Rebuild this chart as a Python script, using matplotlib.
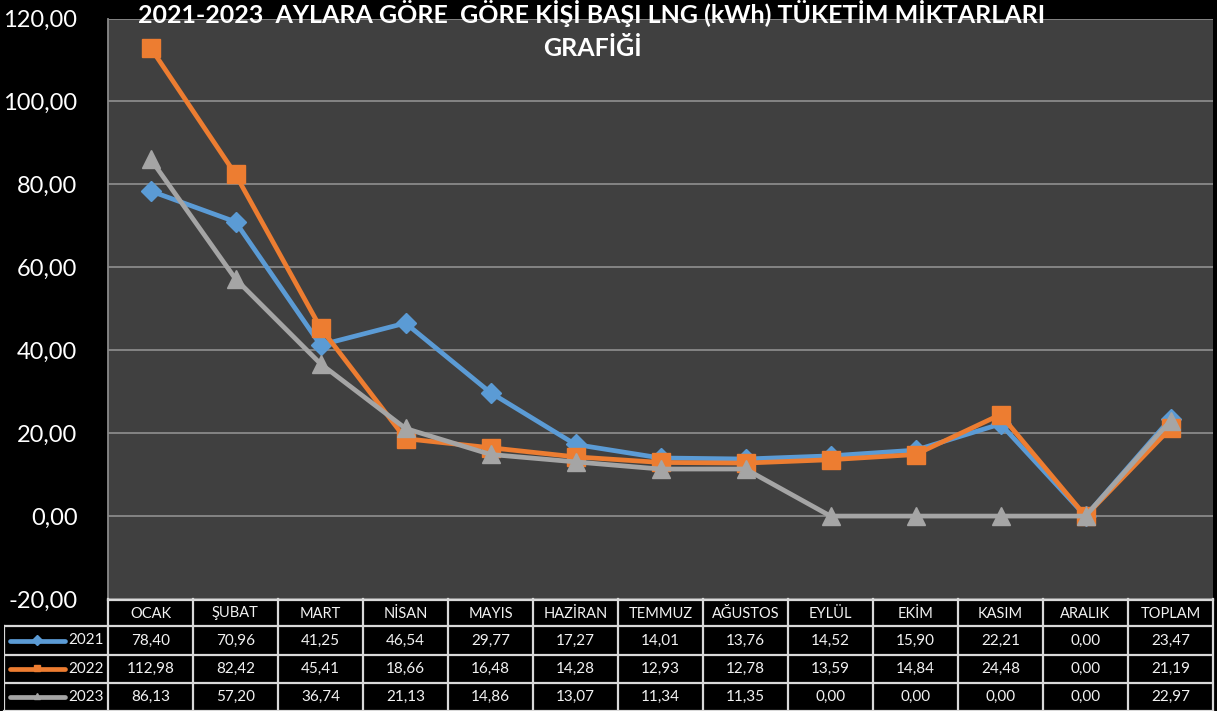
import matplotlib
matplotlib.use('Agg')
import matplotlib.pyplot as plt

plt.rcParams['font.family'] = ['Lato', 'DejaVu Sans']

months = ['OCAK', 'ŞUBAT', 'MART', 'NİSAN', 'MAYIS', 'HAZİRAN', 'TEMMUZ',
          'AĞUSTOS', 'EYLÜL', 'EKİM', 'KASIM', 'ARALIK', 'TOPLAM']
years = ['2021', '2022', '2023']
v2021 = [78.40, 70.96, 41.25, 46.54, 29.77, 17.27, 14.01, 13.76, 14.52,
         15.90, 22.21, 0.00, 23.47]
v2022 = [112.98, 82.42, 45.41, 18.66, 16.48, 14.28, 12.93, 12.78, 13.59,
         14.84, 24.48, 0.00, 21.19]
v2023 = [86.13, 57.20, 36.74, 21.13, 14.86, 13.07, 11.34, 11.35, 0.00,
         0.00, 0.00, 0.00, 22.97]
yticks = [-20, 0, 20, 40, 60, 80, 100, 120]

series = [v2021, v2022, v2023]
colors = ['#5B9BD5', '#ED7D31', '#A5A5A5']
markers = ['D', 's', '^']
msizes = [10, 13, 13]

W, H = 1217, 711
fig = plt.figure(figsize=(W/100, H/100), dpi=100, facecolor='black')

# plot area, pixel bounds
px_l, px_r, px_t, px_b = 108, 1213, 18.5, 599
ax = fig.add_axes([px_l/W, 1 - px_b/H, (px_r - px_l)/W, (px_b - px_t)/H])
ax.set_facecolor('#404040')
x = list(range(len(months)))
for vals, c, m, ms in zip(series, colors, markers, msizes):
    ax.plot(x, vals, color=c, lw=3.4, marker=m, ms=ms, mec=c, mfc=c,
            solid_joinstyle='round', zorder=3)
ax.set_xlim(-0.5, len(months) - 0.5)
ax.set_ylim(-20, 120)
ax.set_yticks(yticks)
ax.set_yticklabels([f'{t:.2f}'.replace('.', ',') for t in yticks],
                   color='white', fontsize=17)
ax.tick_params(axis='y', length=0, pad=22)
ax.set_xticks([])
ax.grid(axis='y', color='#8a8a8a', lw=1.3)
ax.set_axisbelow(True)
for s in ['top', 'right', 'bottom']:
    ax.spines[s].set_visible(False)
ax.spines['left'].set_color('#8a8a8a')
ax.spines['left'].set_linewidth(1.3)

# data table below the plot
unit = (px_r - px_l) / len(months)
tab_l = 4
tx0 = -0.5 - (px_l - tab_l) / unit
tax = fig.add_axes([tab_l/W, 0, (px_r - tab_l)/W, (H - px_b)/H])
tax.set_xlim(tx0, len(months) - 0.5)
row_edges = [599, 626, 655, 683, 711]
tax.set_ylim(H, px_b)
tax.set_facecolor('black')
tax.axis('off')
lc = '#d9d9d9'
tc = '#f2f2f2'

# horizontal borders
tax.plot([-0.5, len(months) - 0.5], [row_edges[0] + 0.5] * 2, color=lc, lw=1.6,
         clip_on=False)
for y in row_edges[1:-1]:
    tax.plot([tx0, len(months) - 0.5], [y, y], color=lc, lw=1.6)
tax.plot([tx0, len(months) - 0.5], [H - 0.5] * 2, color=lc, lw=1.6, clip_on=False)
# vertical borders
tax.plot([tx0, tx0], [row_edges[1], H], color=lc, lw=1.6)
for i in range(len(months) + 1):
    tax.plot([i - 0.5, i - 0.5], [row_edges[0], H], color=lc, lw=1.6,
             clip_on=False)

for i, m in enumerate(months):
    tax.text(i, (row_edges[0] + row_edges[1]) / 2 + 1, m, ha='center',
             va='center', color=tc, fontsize=10.5)
for r, (yr, vals, c, mk) in enumerate(zip(years, series, colors, markers)):
    yc = (row_edges[r + 1] + row_edges[r + 2]) / 2
    for i, v in enumerate(vals):
        tax.text(i, yc, f'{v:.2f}'.replace('.', ','), ha='center',
                 va='center', color=tc, fontsize=11)
    # legend key
    k0 = tx0 + (10 - tab_l) / unit
    k1 = tx0 + (65 - tab_l) / unit
    tax.plot([k0, k1], [yc, yc], color=c, lw=3.4, solid_capstyle='round')
    tax.plot([(k0 + k1) / 2], [yc - 1], marker=mk, ms=5, color=c)
    tax.text(tx0 + (68 - tab_l) / unit, yc, yr, ha='left', va='center',
             color=tc, fontsize=11)

fig.text(592/W, 1 - 0/H,
         '2021-2023  AYLARA GÖRE  GÖRE KİŞİ BAŞI LNG (kWh) TÜKETİM MİKTARLARI\nGRAFİĞİ',
         ha='center', va='top', color='white', fontsize=18, fontweight='bold',
         linespacing=1.5)

fig.savefig('out.png', dpi=100, facecolor='black')
